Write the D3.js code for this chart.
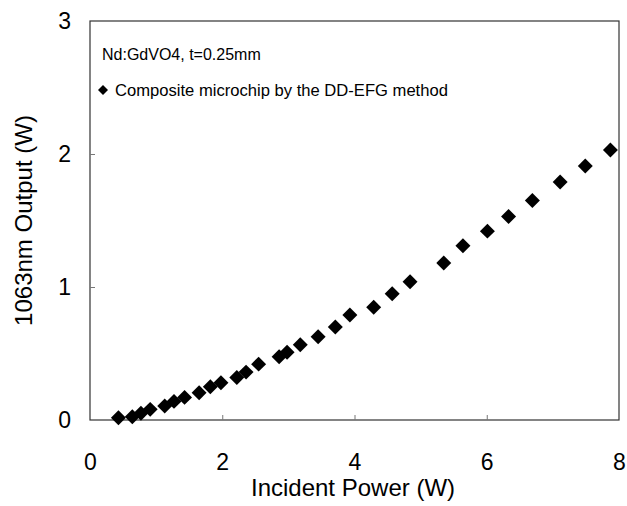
<!DOCTYPE html>
<html>
<head>
<meta charset="utf-8">
<script src="https://cdn.jsdelivr.net/npm/d3@7"></script>
<style>
  body { margin: 0; background: #fff; }
  text { font-family: "Liberation Sans", Arial, sans-serif; fill: #000; }
</style>
</head>
<body>
<script>
// data
var incidentPower = [0.43, 0.64, 0.77, 0.91, 1.13, 1.27, 1.43, 1.65, 1.82, 1.98,
                     2.22, 2.36, 2.55, 2.86, 2.98, 3.18, 3.45, 3.71, 3.93, 4.29,
                     4.57, 4.84, 5.35, 5.64, 6.01, 6.33, 6.69, 7.11, 7.49, 7.87];
var outputPower   = [0.017, 0.025, 0.05, 0.08, 0.105, 0.14, 0.17, 0.205, 0.25, 0.28,
                     0.32, 0.36, 0.42, 0.475, 0.51, 0.566, 0.626, 0.70, 0.79, 0.847,
                     0.95, 1.04, 1.18, 1.31, 1.42, 1.53, 1.65, 1.79, 1.91, 2.03];
var xTicks = [0, 2, 4, 6, 8];
var yTicks = [0, 1, 2, 3];
var seriesName = "Composite microchip by the DD-EFG method";
var noteText = "Nd:GdVO4, t=0.25mm";

var margin = {top: 21, right: 8, bottom: 86, left: 90},
    width = 627 - margin.left - margin.right,
    height = 506 - margin.top - margin.bottom;

var x = d3.scaleLinear().domain([0, 8]).range([0, width]);
var y = d3.scaleLinear().domain([0, 3]).range([height, 0]);

var svg = d3.select("body").append("svg")
    .attr("width", 627)
    .attr("height", 506)
  .append("g")
    .attr("transform", "translate(" + margin.left + "," + margin.top + ")");

// frame
svg.append("rect")
    .attr("width", width).attr("height", height)
    .attr("fill", "none").attr("stroke", "#333").attr("stroke-width", 1.2);

// axes with inward ticks
var xAxis = svg.append("g")
    .attr("transform", "translate(0," + height + ")")
    .call(d3.axisBottom(x).tickValues(xTicks).tickSizeInner(-5).tickSizeOuter(0).tickPadding(34));
var yAxis = svg.append("g")
    .call(d3.axisLeft(y).tickValues(yTicks).tickFormat(d3.format("d")).tickSizeInner(-5).tickSizeOuter(0).tickPadding(19));

[xAxis, yAxis].forEach(function(a) {
  a.select(".domain").remove();
  a.selectAll(".tick line").attr("stroke", "#777");
  a.selectAll(".tick text").style("font-size", "23px").style("font-family", "Liberation Sans, Arial, sans-serif");
});
// hide tick marks on the frame corners
xAxis.selectAll(".tick line").filter(function(d) { return d === 0 || d === 8; }).remove();
yAxis.selectAll(".tick line").filter(function(d) { return d === 0 || d === 3; }).remove();

// points
var diamond = d3.symbol().type(d3.symbolSquare).size(112);
svg.selectAll(".pt")
    .data(incidentPower.map(function(v, i) { return [v, outputPower[i]]; }))
  .enter().append("path")
    .attr("class", "pt")
    .attr("d", diamond)
    .attr("fill", "#000")
    .attr("transform", function(d) { return "translate(" + x(d[0]) + "," + y(d[1]) + ") rotate(45)"; });

// legend
svg.append("text")
    .attr("x", 12).attr("y", 39)
    .style("font-size", "16px")
    .text(noteText);
svg.append("path")
    .attr("d", d3.symbol().type(d3.symbolSquare).size(50))
    .attr("transform", "translate(13,69) rotate(45)");
svg.append("text")
    .attr("x", 25).attr("y", 75)
    .style("font-size", "16.6px")
    .text(seriesName);

// axis titles
svg.append("text")
    .attr("x", 353 - margin.left).attr("y", height + 76)
    .style("text-anchor", "middle")
    .style("font-size", "24px")
    .text("Incident Power (W)");
svg.append("text")
    .attr("transform", "translate(-58," + (height / 2) + ") rotate(-90)")
    .style("text-anchor", "middle")
    .style("font-size", "24px")
    .text("1063nm Output (W)");
</script>
</body>
</html>
